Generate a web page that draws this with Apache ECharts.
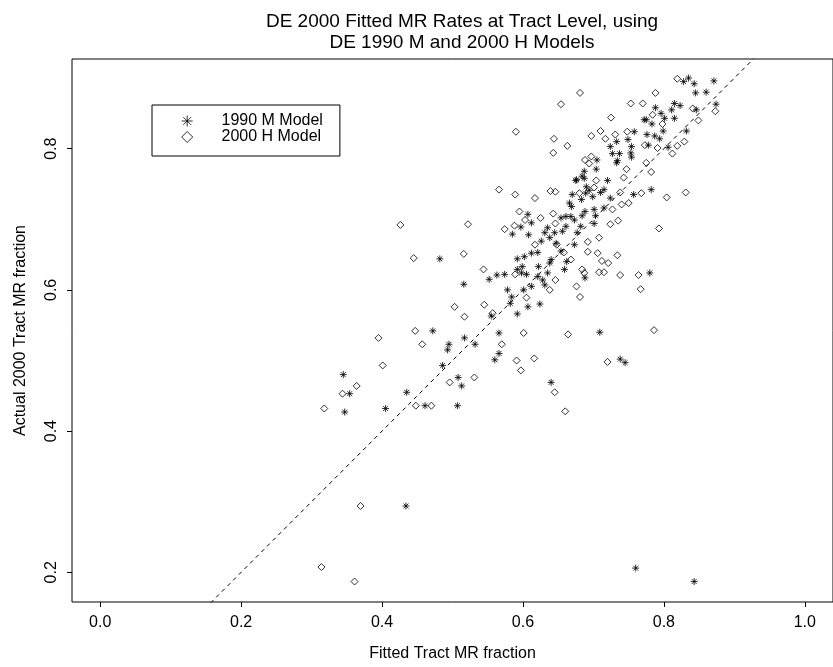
<!DOCTYPE html>
<html>
<head>
<meta charset="utf-8">
<script src="https://cdn.jsdelivr.net/npm/echarts@6/dist/echarts.min.js"></script>
<style>html,body{margin:0;padding:0;background:#fff}#c{width:833px;height:667px}</style>
</head>
<body>
<div id="c"></div>
<script>
// ---- data ----
var titleText = 'DE 2000 Fitted MR Rates at Tract Level, using\nDE 1990 M and 2000 H Models';
var xTitle = 'Fitted Tract MR fraction';
var yTitle = 'Actual 2000 Tract MR fraction';
var xTicks = [0.0, 0.2, 0.4, 0.6, 0.8, 1.0];
var yTicks = [0.2, 0.4, 0.6, 0.8];
var seriesNames = ['1990 M Model', '2000 H Model'];
var refLine = [[-0.1, -0.1], [1.1, 1.1]];

var model1990M = [
 [0.472,0.542],[0.517,0.532],[0.495,0.523],[0.493,0.515],[0.532,0.523],[0.555,0.563],[0.582,0.581],[0.592,0.566],
 [0.607,0.576],[0.624,0.580],[0.566,0.539],[0.566,0.510],[0.560,0.501],[0.486,0.493],[0.345,0.480],[0.354,0.453],
 [0.347,0.427],[0.405,0.432],[0.435,0.455],[0.508,0.476],[0.513,0.464],[0.507,0.436],[0.461,0.436],[0.640,0.469],
 [0.482,0.644],[0.516,0.608],[0.552,0.615],[0.563,0.621],
 [0.835,0.900],[0.828,0.895],[0.843,0.892],[0.845,0.879],[0.871,0.896],[0.860,0.880],[0.874,0.863],[0.823,0.861],
 [0.815,0.864],[0.811,0.855],[0.815,0.843],[0.846,0.855],[0.788,0.858],[0.796,0.850],[0.801,0.843],[0.772,0.841],
 [0.775,0.841],[0.783,0.835],[0.799,0.825],[0.832,0.825],[0.776,0.820],[0.787,0.818],[0.794,0.814],[0.778,0.805],
 [0.806,0.802],[0.758,0.824],[0.749,0.813],[0.733,0.810],[0.724,0.803],[0.754,0.803],[0.727,0.793],[0.737,0.793],
 [0.753,0.794],[0.754,0.788],[0.733,0.780],[0.734,0.783],[0.705,0.784],[0.704,0.771],[0.687,0.768],[0.687,0.758],
 [0.675,0.755],[0.720,0.755],[0.690,0.746],[0.715,0.742],[0.710,0.738],[0.699,0.732],[0.724,0.730],[0.757,0.735],
 [0.782,0.742],[0.670,0.735],[0.666,0.723],[0.669,0.718],[0.683,0.728],[0.688,0.711],[0.684,0.705],[0.701,0.714],
 [0.715,0.716],[0.703,0.705],[0.654,0.702],[0.661,0.704],[0.668,0.704],[0.673,0.699],[0.701,0.694],[0.682,0.690],
 [0.661,0.690],[0.677,0.681],[0.656,0.683],[0.635,0.688],[0.631,0.681],[0.638,0.674],[0.626,0.669],[0.645,0.681],
 [0.612,0.695],[0.607,0.707],[0.597,0.689],[0.585,0.679],[0.608,0.678],[0.647,0.666],[0.673,0.664],[0.654,0.655],
 [0.640,0.643],[0.638,0.638],[0.621,0.653],[0.612,0.652],[0.602,0.647],[0.592,0.644],[0.599,0.633],[0.605,0.622],
 [0.598,0.624],[0.574,0.622],[0.592,0.629],[0.622,0.633],[0.662,0.640],[0.659,0.629],[0.688,0.617],[0.635,0.624],
 [0.628,0.614],[0.621,0.619],[0.631,0.607],[0.612,0.605],[0.601,0.600],[0.578,0.600],[0.584,0.590],[0.780,0.624],
 [0.676,0.756],[0.684,0.761],[0.694,0.741],[0.689,0.737],
 [0.434,0.294],[0.760,0.206],[0.843,0.187],
 [0.738,0.502],[0.745,0.497],[0.709,0.540]
];

var model2000H = [
 [0.503,0.576],[0.545,0.579],[0.517,0.562],[0.557,0.567],[0.447,0.542],[0.395,0.532],[0.457,0.523],[0.401,0.493],
 [0.570,0.523],[0.601,0.539],[0.591,0.500],[0.616,0.503],[0.597,0.486],[0.364,0.464],[0.344,0.453],[0.318,0.432],
 [0.496,0.469],[0.531,0.476],[0.448,0.436],[0.470,0.436],[0.645,0.455],
 [0.426,0.692],[0.522,0.693],[0.445,0.645],[0.516,0.651],[0.544,0.629],
 [0.819,0.899],[0.681,0.879],[0.788,0.879],[0.654,0.863],[0.753,0.864],[0.770,0.864],[0.590,0.824],[0.725,0.844],
 [0.644,0.814],[0.643,0.794],[0.663,0.804],[0.697,0.818],[0.710,0.825],[0.717,0.814],[0.731,0.820],[0.748,0.824],
 [0.849,0.840],[0.873,0.853],[0.841,0.857],[0.798,0.835],[0.784,0.848],[0.773,0.805],[0.791,0.801],[0.812,0.793],
 [0.819,0.804],[0.829,0.810],[0.782,0.767],[0.775,0.780],[0.747,0.771],[0.743,0.759],[0.566,0.742],[0.589,0.735],
 [0.617,0.730],[0.639,0.740],[0.646,0.739],[0.738,0.738],[0.740,0.721],[0.750,0.723],[0.768,0.737],[0.804,0.731],
 [0.831,0.738],[0.793,0.687],[0.724,0.693],[0.735,0.698],[0.727,0.714],[0.708,0.674],[0.734,0.649],[0.721,0.638],
 [0.712,0.641],[0.706,0.652],[0.692,0.654],[0.692,0.668],[0.595,0.711],[0.588,0.691],[0.574,0.686],[0.603,0.699],
 [0.625,0.702],[0.643,0.708],[0.646,0.694],[0.617,0.664],[0.648,0.664],[0.658,0.653],[0.708,0.625],[0.715,0.625],
 [0.738,0.621],[0.764,0.621],[0.767,0.601],[0.676,0.605],[0.681,0.590],[0.684,0.629],[0.687,0.624],[0.668,0.643],
 [0.589,0.622],[0.638,0.600],[0.646,0.614],[0.605,0.589],[0.701,0.745],[0.704,0.755],[0.688,0.784],[0.694,0.779],
 [0.697,0.789],[0.680,0.737],
 [0.314,0.2075],[0.361,0.187],[0.3695,0.294],
 [0.660,0.428],[0.664,0.537],[0.786,0.543],[0.720,0.498]
];

// ---- chart ----
var FONT = '"Liberation Sans", Arial, Helvetica, sans-serif';
var starPath = 'path://M5 0L5 10M0 5L10 5M1.5 1.5L8.5 8.5M8.5 1.5L1.5 8.5';
var diamondPath = 'path://M5 0L10 5L5 10L0 5Z';
// legend icons: a 40x12 box with the glyph near its left
var starIcon = 'path://M0 0M40 12M10.7 0.5L10.7 11.5M5.2 6L16.2 6M6.8 2.1L14.6 9.9M14.6 2.1L6.8 9.9';
var diamondIcon = 'path://M0 0M40 12M10.7 0.5L16.2 6L10.7 11.5L5.2 6Z';

var chart = echarts.init(document.getElementById('c'), null, {renderer: 'canvas'});
chart.setOption({
  animation: false,
  backgroundColor: '#fff',
  title: {
    text: titleText,
    left: 457, top: 6, textAlign: 'center',
    textStyle: {fontFamily: FONT, fontSize: 19, fontWeight: 'normal', color: '#000', lineHeight: 21}
  },
  legend: {
    orient: 'vertical', left: 152, top: 105,
    padding: [8, 17, 11, 24],
    itemWidth: 40, itemHeight: 12, itemGap: 0,
    borderColor: '#000', borderWidth: 1, backgroundColor: '#fff',
    itemStyle: {borderWidth: 1, borderColor: '#000', color: 'rgba(0,0,0,0)'},
    textStyle: {fontFamily: FONT, fontSize: 16, color: '#000', lineHeight: 15},
    data: [
      {name: seriesNames[0], icon: starIcon},
      {name: seriesNames[1], icon: diamondIcon}
    ]
  },
  grid: {left: 72, top: 59, width: 770, height: 543, show: true, borderColor: '#000', borderWidth: 1, backgroundColor: 'transparent'},
  xAxis: {
    type: 'value', min: -0.04, max: 1.04,
    name: xTitle, nameLocation: 'middle', nameGap: 44,
    nameTextStyle: {fontFamily: FONT, fontSize: 16, color: '#000'},
    axisLine: {show: false, onZero: false},
    splitLine: {show: false},
    axisTick: {show: true, customValues: xTicks, length: 5, lineStyle: {color: '#000'}},
    axisLabel: {customValues: xTicks, margin: 13, fontFamily: FONT, fontSize: 16, color: '#000',
      formatter: function (v) { return v.toFixed(1); }}
  },
  yAxis: {
    type: 'value', min: 0.158, max: 0.927,
    name: yTitle, nameLocation: 'middle', nameGap: 43, nameRotate: 90,
    nameTextStyle: {fontFamily: FONT, fontSize: 16, color: '#000'},
    axisLine: {show: false, onZero: false},
    splitLine: {show: false},
    axisTick: {show: true, customValues: yTicks, length: 5, lineStyle: {color: '#000'}},
    axisLabel: {customValues: yTicks, rotate: 90, margin: 12, fontFamily: FONT, fontSize: 16, color: '#000',
      formatter: function (v) { return v.toFixed(1); }}
  },
  series: [
    {
      name: seriesNames[0], type: 'scatter', data: model1990M,
      symbol: starPath, symbolSize: 7,
      itemStyle: {color: 'rgba(0,0,0,0)', borderColor: '#000', borderWidth: 1},
      emphasis: {disabled: true}, z: 3
    },
    {
      name: seriesNames[1], type: 'scatter', data: model2000H,
      symbol: diamondPath, symbolSize: 7,
      itemStyle: {color: 'rgba(0,0,0,0)', borderColor: '#000', borderWidth: 1},
      emphasis: {disabled: true}, z: 3
    },
    {
      name: 'ref', type: 'line', data: refLine, symbol: 'none', clip: true,
      lineStyle: {color: '#000', width: 1, type: [4, 4]},
      emphasis: {disabled: true}, silent: true, z: 2
    }
  ]
});
</script>
</body>
</html>
